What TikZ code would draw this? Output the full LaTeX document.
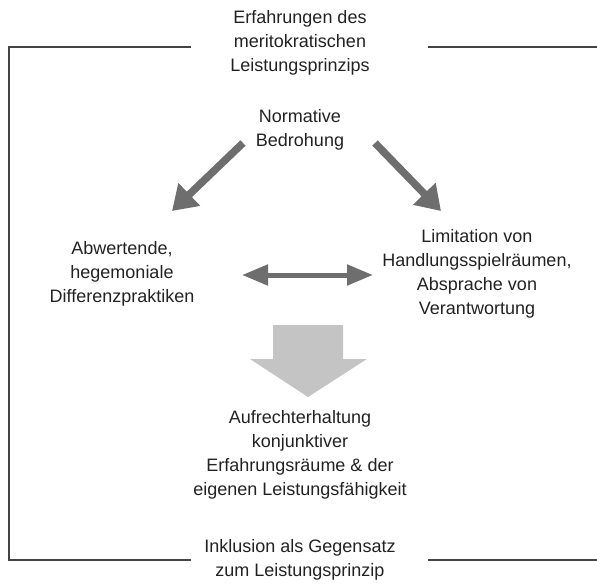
\documentclass[tikz,border=0pt]{standalone}
\usepackage{fontspec}
\setmainfont{Liberation Sans}
\usetikzlibrary{arrows.meta}
\definecolor{txt}{HTML}{222222}
\definecolor{arr}{HTML}{6E6E6E}
\definecolor{blk}{HTML}{C4C4C4}
\definecolor{frm}{HTML}{444444}
\tikzset{
  lbl/.style={align=center, text=txt, font=\fontsize{18}{24}\selectfont, inner sep=0pt},
  thickarr/.style={draw=arr, line width=7.5pt, -{Triangle[length=24pt,width=30pt]}},
  dblarr/.style={draw=arr, line width=5pt, {Triangle[length=26pt,width=20pt]}-{Triangle[length=26pt,width=20pt]}},
  frame/.style={draw=frm, line width=1.4pt}
}
\begin{document}
\begin{tikzpicture}[x=1pt,y=-1pt]
\useasboundingbox (0,0) rectangle (597,584);
% texts
\node[lbl] (top) at (300,43) {Erfahrungen des\\meritokratischen\\Leistungsprinzips};
\node[lbl] (norm) at (300,130) {Normative\\Bedrohung};
\node[lbl] (left) at (122,274) {Abwertende,\\hegemoniale\\Differenzpraktiken};
\node[lbl] (right) at (477,274) {Limitation von\\Handlungsspielräumen,\\Absprache von\\Verantwortung};
\node[lbl] (res) at (300,455) {Aufrechterhaltung\\konjunktiver\\Erfahrungsräume \& der\\eigenen Leistungsfähigkeit};
\node[lbl] (bot) at (300,560) {Inklusion als Gegensatz\\zum Leistungsprinzip};
% frame
\coordinate (t1) at (191,47);
\coordinate (tl) at (9,47);
\coordinate (bl) at (9,560);
\coordinate (b1) at (191,560);
\coordinate (t2) at (428,47);
\coordinate (t3) at (597,47);
\coordinate (b2) at (428,560);
\coordinate (b3) at (597,560);
\draw[frame] (t1) -- (tl) -- (bl) -- (b1);
\draw[frame] (t2) -- (t3);
\draw[frame] (b2) -- (b3);
% arrows
\coordinate (l1) at (243,143);
\coordinate (l2) at (172,211);
\coordinate (r1) at (375,143);
\coordinate (r2) at (441,211);
\draw[thickarr] (l1) -- (l2);
\draw[thickarr] (r1) -- (r2);
\coordinate (d1) at (242,275);
\coordinate (d2) at (373,275);
\draw[dblarr] (d1) -- (d2);
% block arrow
\fill[blk] (273,325) -- (343,325) -- (343,359) -- (367,359) -- (308,397) -- (250,359) -- (273,359) -- cycle;
\end{tikzpicture}
\end{document}
